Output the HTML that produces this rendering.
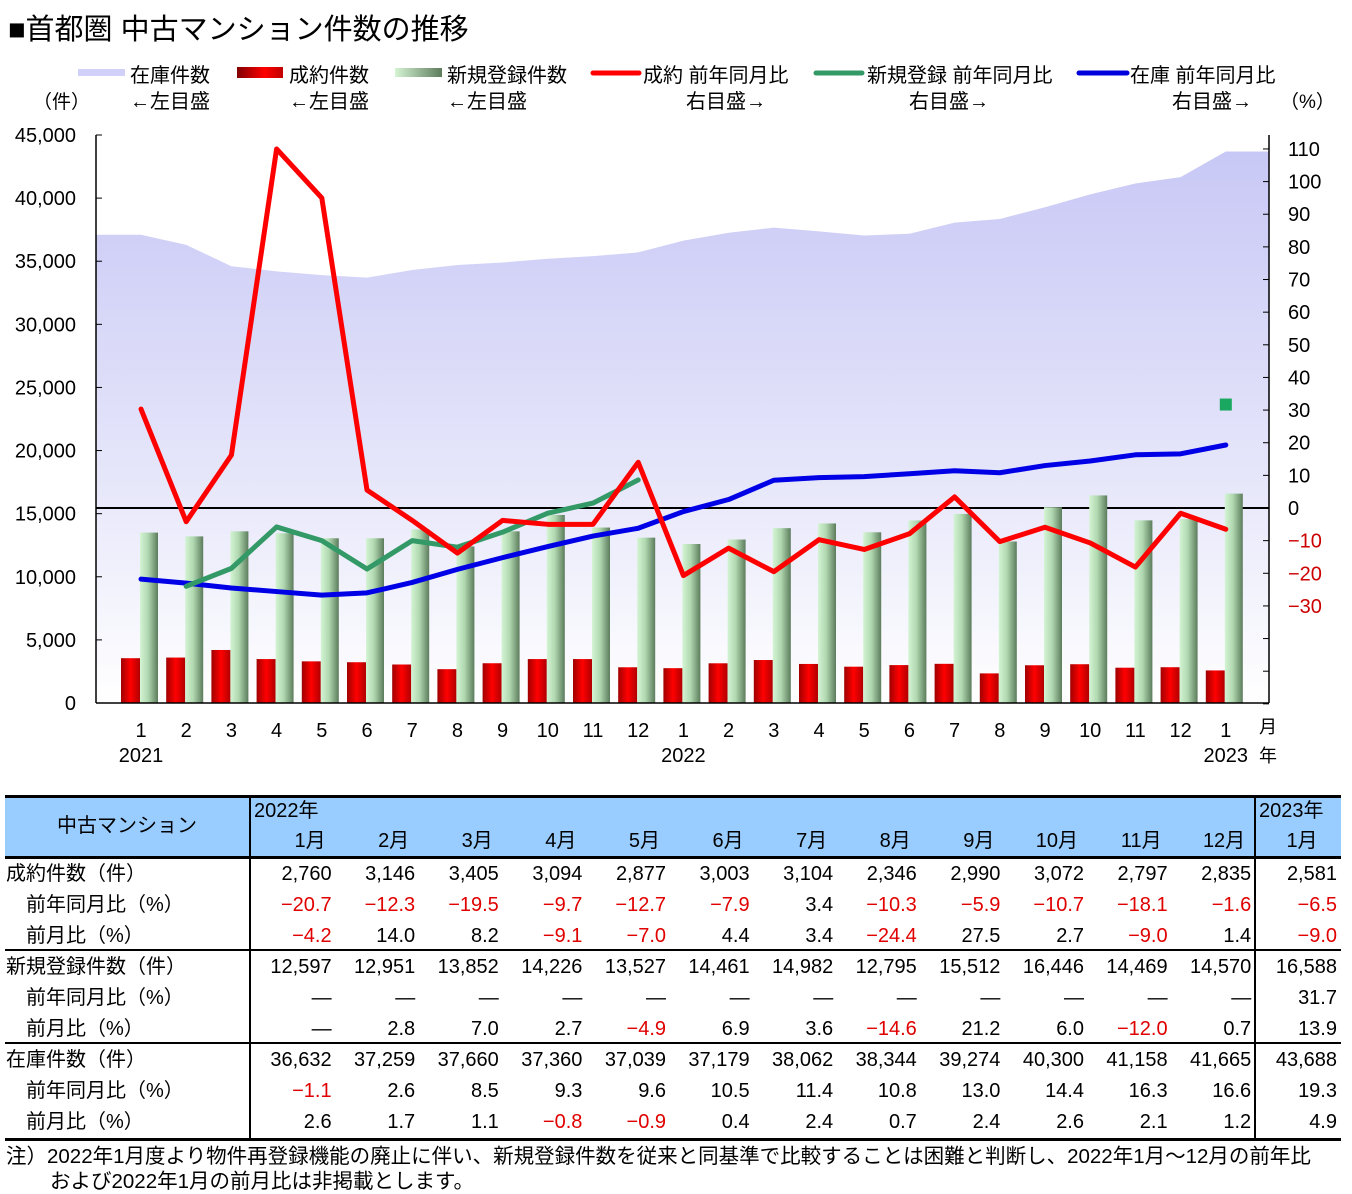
<!DOCTYPE html>
<html><head><meta charset="utf-8">
<style>
body{margin:0;background:#fff;width:1352px;height:1194px;overflow:hidden;position:relative;font-family:"Liberation Sans","Noto Sans CJK JP",sans-serif;}
.t{position:absolute;white-space:nowrap;color:#000;}
#tbl{position:absolute;left:0;top:0;width:1352px;height:1194px;}
.c{position:absolute;white-space:nowrap;font-size:20px;line-height:31px;text-align:right;}
.red{color:#e00000;}
</style></head><body>
<div class="t" style="left:8px;top:6px;font-size:29px;">■首都圏 中古マンション件数の推移</div>
<svg id="chart" width="1352" height="790" style="position:absolute;left:0;top:0" font-family="Liberation Sans, Noto Sans CJK JP, sans-serif">
<defs>
<linearGradient id="gInv" x1="0" y1="0" x2="0" y2="1"><stop offset="0" stop-color="#c8c8f6"/><stop offset="0.55" stop-color="#e4e4fa"/><stop offset="1" stop-color="#ffffff"/></linearGradient>
<linearGradient id="gGreen" x1="0" y1="0" x2="1" y2="0"><stop offset="0" stop-color="#d4f4d4"/><stop offset="0.45" stop-color="#b0d8b0"/><stop offset="1" stop-color="#5c7c5c"/></linearGradient>
<linearGradient id="gRed" x1="0" y1="0" x2="1" y2="0"><stop offset="0" stop-color="#a00000"/><stop offset="0.5" stop-color="#ff0000"/><stop offset="1" stop-color="#b00000"/></linearGradient>
<linearGradient id="gLegRed" x1="0" y1="0" x2="1" y2="0"><stop offset="0" stop-color="#800000"/><stop offset="0.6" stop-color="#ff0000"/><stop offset="1" stop-color="#c00000"/></linearGradient>
<linearGradient id="gLegGreen" x1="0" y1="0" x2="1" y2="0"><stop offset="0" stop-color="#d4f4d4"/><stop offset="1" stop-color="#5c7c5c"/></linearGradient>
</defs>
<g id="legend" font-size="20">
<rect x="78" y="69" width="47" height="7" fill="#d0d0f8"/>
<text x="130" y="82">在庫件数</text>
<text x="130" y="108">←左目盛</text>
<rect x="237" y="67" width="46" height="11" fill="url(#gLegRed)"/>
<text x="289" y="82">成約件数</text>
<text x="289" y="108">←左目盛</text>
<rect x="395" y="68" width="47" height="9" fill="url(#gLegGreen)"/>
<text x="447" y="82">新規登録件数</text>
<text x="447" y="108">←左目盛</text>
<line x1="593" y1="73" x2="639" y2="73" stroke="#ff0000" stroke-width="5" stroke-linecap="round"/>
<text x="643" y="82">成約 前年同月比</text>
<text x="686" y="108">右目盛→</text>
<line x1="816" y1="73" x2="862" y2="73" stroke="#339966" stroke-width="5" stroke-linecap="round"/>
<text x="867" y="82">新規登録 前年同月比</text>
<text x="909" y="108">右目盛→</text>
<line x1="1079" y1="73" x2="1127" y2="73" stroke="#0000dd" stroke-width="5" stroke-linecap="round"/>
<text x="1130" y="82">在庫 前年同月比</text>
<text x="1172" y="108">右目盛→</text>
</g>
<text x="33" y="108" font-size="19">（件）</text>
<text x="1280" y="108" font-size="19">（%）</text>
<g id="plot"></g>
</svg>
<div id="tbl"></div>
<div class="t" style="left:6px;top:1139px;font-size:20.5px;">注）2022年1月度より物件再登録機能の廃止に伴い、新規登録件数を従来と同基準で比較することは困難と判断し、2022年1月～12月の前年比</div>
<div class="t" style="left:50px;top:1164px;font-size:20.5px;">および2022年1月の前月比は非掲載とします。</div>
<script>
// ---- chart data (2021/1 .. 2023/1) ----
const months = ["1","2","3","4","5","6","7","8","9","10","11","12","1","2","3","4","5","6","7","8","9","10","11","12","1"];
const inventory = [37100,36300,34600,34200,33900,33700,34300,34700,34900,35200,35400,35700,36632,37259,37660,37360,37039,37179,38062,38344,39274,40300,41158,41665,43688];
const contracts = [3550,3600,4200,3480,3300,3230,3050,2680,3150,3480,3480,2830,2760,3146,3405,3094,2877,3003,3104,2346,2990,3072,2797,2835,2581];
const newListings = [13500,13200,13600,13450,13050,13050,13750,12400,13600,14900,13900,13100,12597,12951,13852,14226,13527,14461,14982,12795,15512,16446,14469,14570,16588];
const contractsYoy = [30.3,-4.2,16.2,110,95,5.5,-3.8,-13.8,-3.8,-5,-5,14,-20.7,-12.3,-19.5,-9.7,-12.7,-7.9,3.4,-10.3,-5.9,-10.7,-18.1,-1.6,-6.5];
const newYoy = [null,-24,-18.5,-5.8,-10,-18.7,-10,-12,-7.4,-1.6,1.5,8.6,null,null,null,null,null,null,null,null,null,null,null,null,31.7];
const inventoryYoy = [-21.8,-23,-24.5,-25.6,-26.7,-26,-22.8,-18.8,-15.2,-11.8,-8.6,-6.2,-1.1,2.6,8.5,9.3,9.6,10.5,11.4,10.8,13.0,14.4,16.3,16.6,19.3];
const leftTicks = [0,5000,10000,15000,20000,25000,30000,35000,40000,45000];
const rightTicks = [110,100,90,80,70,60,50,40,30,20,10,0,-10,-20,-30];

const X0=96, X1=1269, YB=703, YT=135;
function cx(i){return 141+i*45.2;}
function yL(v){return YB-(v/45000)*(YB-YT);}
function yR(v){return 508-v*3.264;}
const NS="http://www.w3.org/2000/svg";
const plot=document.getElementById('plot');
function mk(tag,attrs,parent){const e=document.createElementNS(NS,tag);for(const k in attrs)e.setAttribute(k,attrs[k]);(parent||plot).appendChild(e);return e;}

let d="M"+X0+","+YB+" L"+X0+","+yL(inventory[0]);
inventory.forEach((v,i)=>{d+=" L"+cx(i)+","+yL(v);});
d+=" L"+X1+","+yL(inventory[inventory.length-1])+" L"+X1+","+YB+" Z";
const area=mk('path',{d:d,fill:"url(#gInv)"});



const zl=mk('line',{x1:X0,x2:X1,y1:yR(0),y2:yR(0),stroke:"#000","stroke-width":2});



contracts.forEach((v,i)=>{
  const r=mk('rect',{x:cx(i)-20,y:yL(v),width:19,height:YB-yL(v),fill:"url(#gRed)"});
  
  
});
newListings.forEach((v,i)=>{
  const r=mk('rect',{x:cx(i)-1,y:yL(v),width:18,height:YB-yL(v),fill:"url(#gGreen)"});
  
  
});

function line(arr,color,name){
  let p="";arr.forEach((v,i)=>{if(v===null)return;p+=(p?" L":"M")+cx(i)+","+yR(v);});
  const l=mk('path',{d:p,fill:"none",stroke:color,"stroke-width":5,"stroke-linejoin":"round","stroke-linecap":"round"});
  
  
}
line(inventoryYoy,"#0000e6","line-inventory-yoy");
line(newYoy.slice(0,12),"#339966","line-new-yoy");
line(contractsYoy,"#ff0000","line-contracts-yoy");
const mkr=mk('rect',{x:cx(24)-6,y:yR(newYoy[24])-6,width:12,height:12,fill:"#1aa860"});



const la=mk('line',{x1:X0,x2:X0,y1:YT,y2:YB,stroke:"#000","stroke-width":1.5});


const ra=mk('line',{x1:X1,x2:X1,y1:YT,y2:YB,stroke:"#000","stroke-width":1.5});


const ba=mk('line',{x1:X0,x2:X1,y1:YB,y2:YB,stroke:"#000","stroke-width":1.5});


leftTicks.forEach(v=>{
  mk('line',{x1:X0,x2:X0+6,y1:yL(v),y2:yL(v),stroke:"#000"});
  const t=mk('text',{x:76,y:yL(v)+7,"text-anchor":"end","font-size":20});
  t.textContent=v.toLocaleString('en-US');
  
  
});
for(let v=110;v>=-60;v-=10){mk('line',{x1:X1-6,x2:X1,y1:yR(v),y2:yR(v),stroke:"#000"});}
rightTicks.forEach(v=>{
  const t=mk('text',{x:1288,y:yR(v)+7,"font-size":20,fill:v<0?"#cc0000":"#000"});
  t.textContent=v<0?"−"+Math.abs(v):String(v);
  
  
});
months.forEach((m,i)=>{
  const t=mk('text',{x:cx(i),y:737,"text-anchor":"middle","font-size":20});
  t.textContent=m;
  
  
});
[[0,"2021"],[12,"2022"],[24,"2023"]].forEach(([i,y])=>{
  const t=mk('text',{x:cx(i),y:762,"text-anchor":"middle","font-size":20});
  t.textContent=y;
  
  
});
const um=mk('text',{x:1259,y:733,"font-size":18});um.textContent="月";


const uy=mk('text',{x:1259,y:762,"font-size":18});uy.textContent="年";



// ---- table ----
const tblMonths=["1月","2月","3月","4月","5月","6月","7月","8月","9月","10月","11月","12月","1月"];
const rowLabels=["成約件数（件）","　前年同月比（%）","　前月比（%）","新規登録件数（件）","　前年同月比（%）","　前月比（%）","在庫件数（件）","　前年同月比（%）","　前月比（%）"];
const rowsData=[
["2,760","3,146","3,405","3,094","2,877","3,003","3,104","2,346","2,990","3,072","2,797","2,835","2,581"],
["−20.7","−12.3","−19.5","−9.7","−12.7","−7.9","3.4","−10.3","−5.9","−10.7","−18.1","−1.6","−6.5"],
["−4.2","14.0","8.2","−9.1","−7.0","4.4","3.4","−24.4","27.5","2.7","−9.0","1.4","−9.0"],
["12,597","12,951","13,852","14,226","13,527","14,461","14,982","12,795","15,512","16,446","14,469","14,570","16,588"],
["—","—","—","—","—","—","—","—","—","—","—","—","31.7"],
["—","2.8","7.0","2.7","−4.9","6.9","3.6","−14.6","21.2","6.0","−12.0","0.7","13.9"],
["36,632","37,259","37,660","37,360","37,039","37,179","38,062","38,344","39,274","40,300","41,158","41,665","43,688"],
["−1.1","2.6","8.5","9.3","9.6","10.5","11.4","10.8","13.0","14.4","16.3","16.6","19.3"],
["2.6","1.7","1.1","−0.8","−0.9","0.4","2.4","0.7","2.4","2.6","2.1","1.2","4.9"]];
const T=document.getElementById('tbl');
function div(style,txt,cls){const e=document.createElement('div');e.className=cls||'';e.setAttribute('style',style);if(txt!==undefined)e.textContent=txt;T.appendChild(e);return e;}
const hb=div("position:absolute;left:5px;top:796px;width:1336px;height:61px;background:#99ccff;");


[[795,2.5],[856,2.5],[949,2],[1042,2],[1138,3]].forEach(([y,w])=>{
  const l=div("position:absolute;left:5px;top:"+y+"px;width:1336px;height:"+w+"px;background:#000;");
  
  
});
[249,1254].forEach(x=>{
  const l=div("position:absolute;left:"+x+"px;top:796px;width:2px;height:343px;background:#000;");
  
  
});
const h0=div("position:absolute;left:5px;top:796px;width:244px;line-height:61px;font-size:20px;text-align:center;","中古マンション","c");


const y22=div("position:absolute;left:254px;top:797px;font-size:20px;line-height:28px;","2022年","c");


const y23=div("position:absolute;left:1259px;top:797px;font-size:20px;line-height:28px;","2023年","c");


function colRight(j){return j<12?250+(j+1)*83.6-2:1337;}
tblMonths.forEach((m,j)=>{
  const e=div("left:"+(colRight(j)-70)+"px;top:826px;width:"+(j<12?64:70)+"px;text-align:"+(j<12?"right":"center")+";",m,"c");
  
  
});
rowLabels.forEach((lab,r)=>{
  const top=859+r*31;
  const e=div("left:6px;top:"+top+"px;text-align:left;",lab,"c");
  
  
  rowsData[r].forEach((v,j)=>{
    const cell=div("left:"+(colRight(j)-82)+"px;top:"+top+"px;width:82px;",v,"c"+(v.startsWith("−")?" red":""));
    
    
  });
});
</script>
</body></html>
